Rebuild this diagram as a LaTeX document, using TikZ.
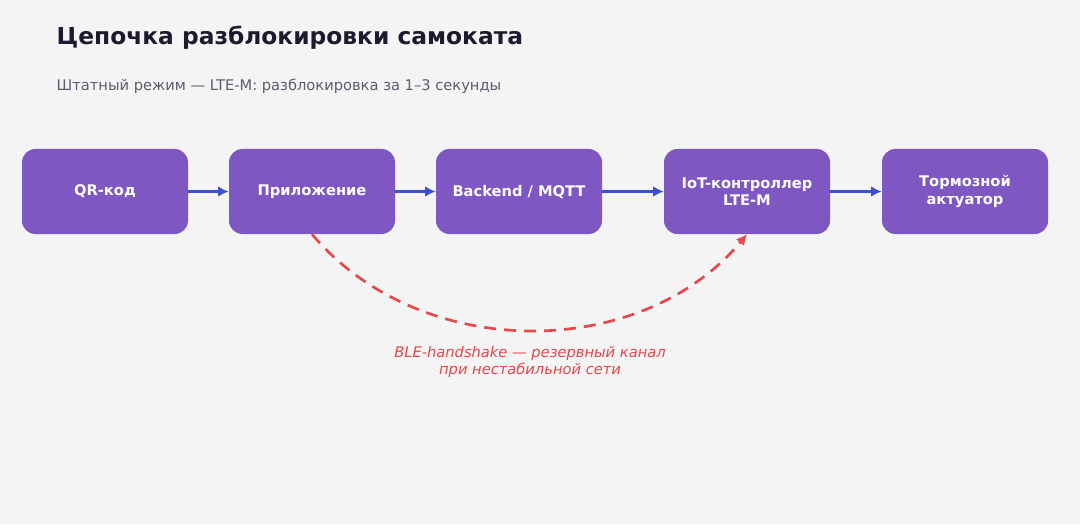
\documentclass[tikz,border=0pt]{standalone}
\usepackage{fontspec}
\setmainfont{DejaVu Sans}
\usetikzlibrary{arrows.meta}
\definecolor{bg}{HTML}{F4F4F4}
\definecolor{box}{HTML}{7E57C2}
\definecolor{arr}{HTML}{3B4FD0}
\definecolor{red}{HTML}{E5484D}
\definecolor{ttl}{HTML}{1C1A2E}
\definecolor{sub}{HTML}{5E5B6E}
\begin{document}
\begin{tikzpicture}[x=0.75pt,y=-0.75pt,
 bx/.style={fill=box,rounded corners=10pt,minimum width=166*0.75pt,minimum height=85*0.75pt,text=white,font=\fontsize{11}{13}\selectfont\bfseries,align=center,inner sep=0pt},
 ar/.style={draw=arr,line width=2.2pt,-{Latex[length=8pt,width=8pt]}}]
\fill[bg] (0,0) rectangle (1080,524);
\node[anchor=west,text=ttl,font=\fontsize{17.5}{20}\selectfont\bfseries] (t) at (52,38) {Цепочка разблокировки самоката};
\node[anchor=west,text=sub,font=\fontsize{11}{13}\selectfont] (s) at (52,86) {Штатный режим — LTE-M: разблокировка за 1–3 секунды};
\node[bx] (a) at (105,191.5) {QR-код};
\node[bx] (b) at (312,191.5) {Приложение};
\node[bx] (c) at (519,191.5) {Backend / MQTT};
\node[bx] (d) at (747,191.5) {IoT-контроллер\\LTE-M};
\node[bx] (e) at (965,191.5) {Тормозной\\актуатор};
\draw[ar] (a) -- (b); \draw[ar] (b) -- (c); \draw[ar] (c) -- (d); \draw[ar] (d) -- (e);
\draw[red,line width=2pt,dash pattern=on 9pt off 6pt,-{Latex[length=8pt,width=8pt]}] (b.south) .. controls (420,362) and (640,362) .. (d.south);
\node[text=red,font=\fontsize{11}{13}\selectfont\itshape,align=center] (l) at (530,362) {BLE-handshake — резервный канал\\при нестабильной сети};
\end{tikzpicture}
\end{document}
